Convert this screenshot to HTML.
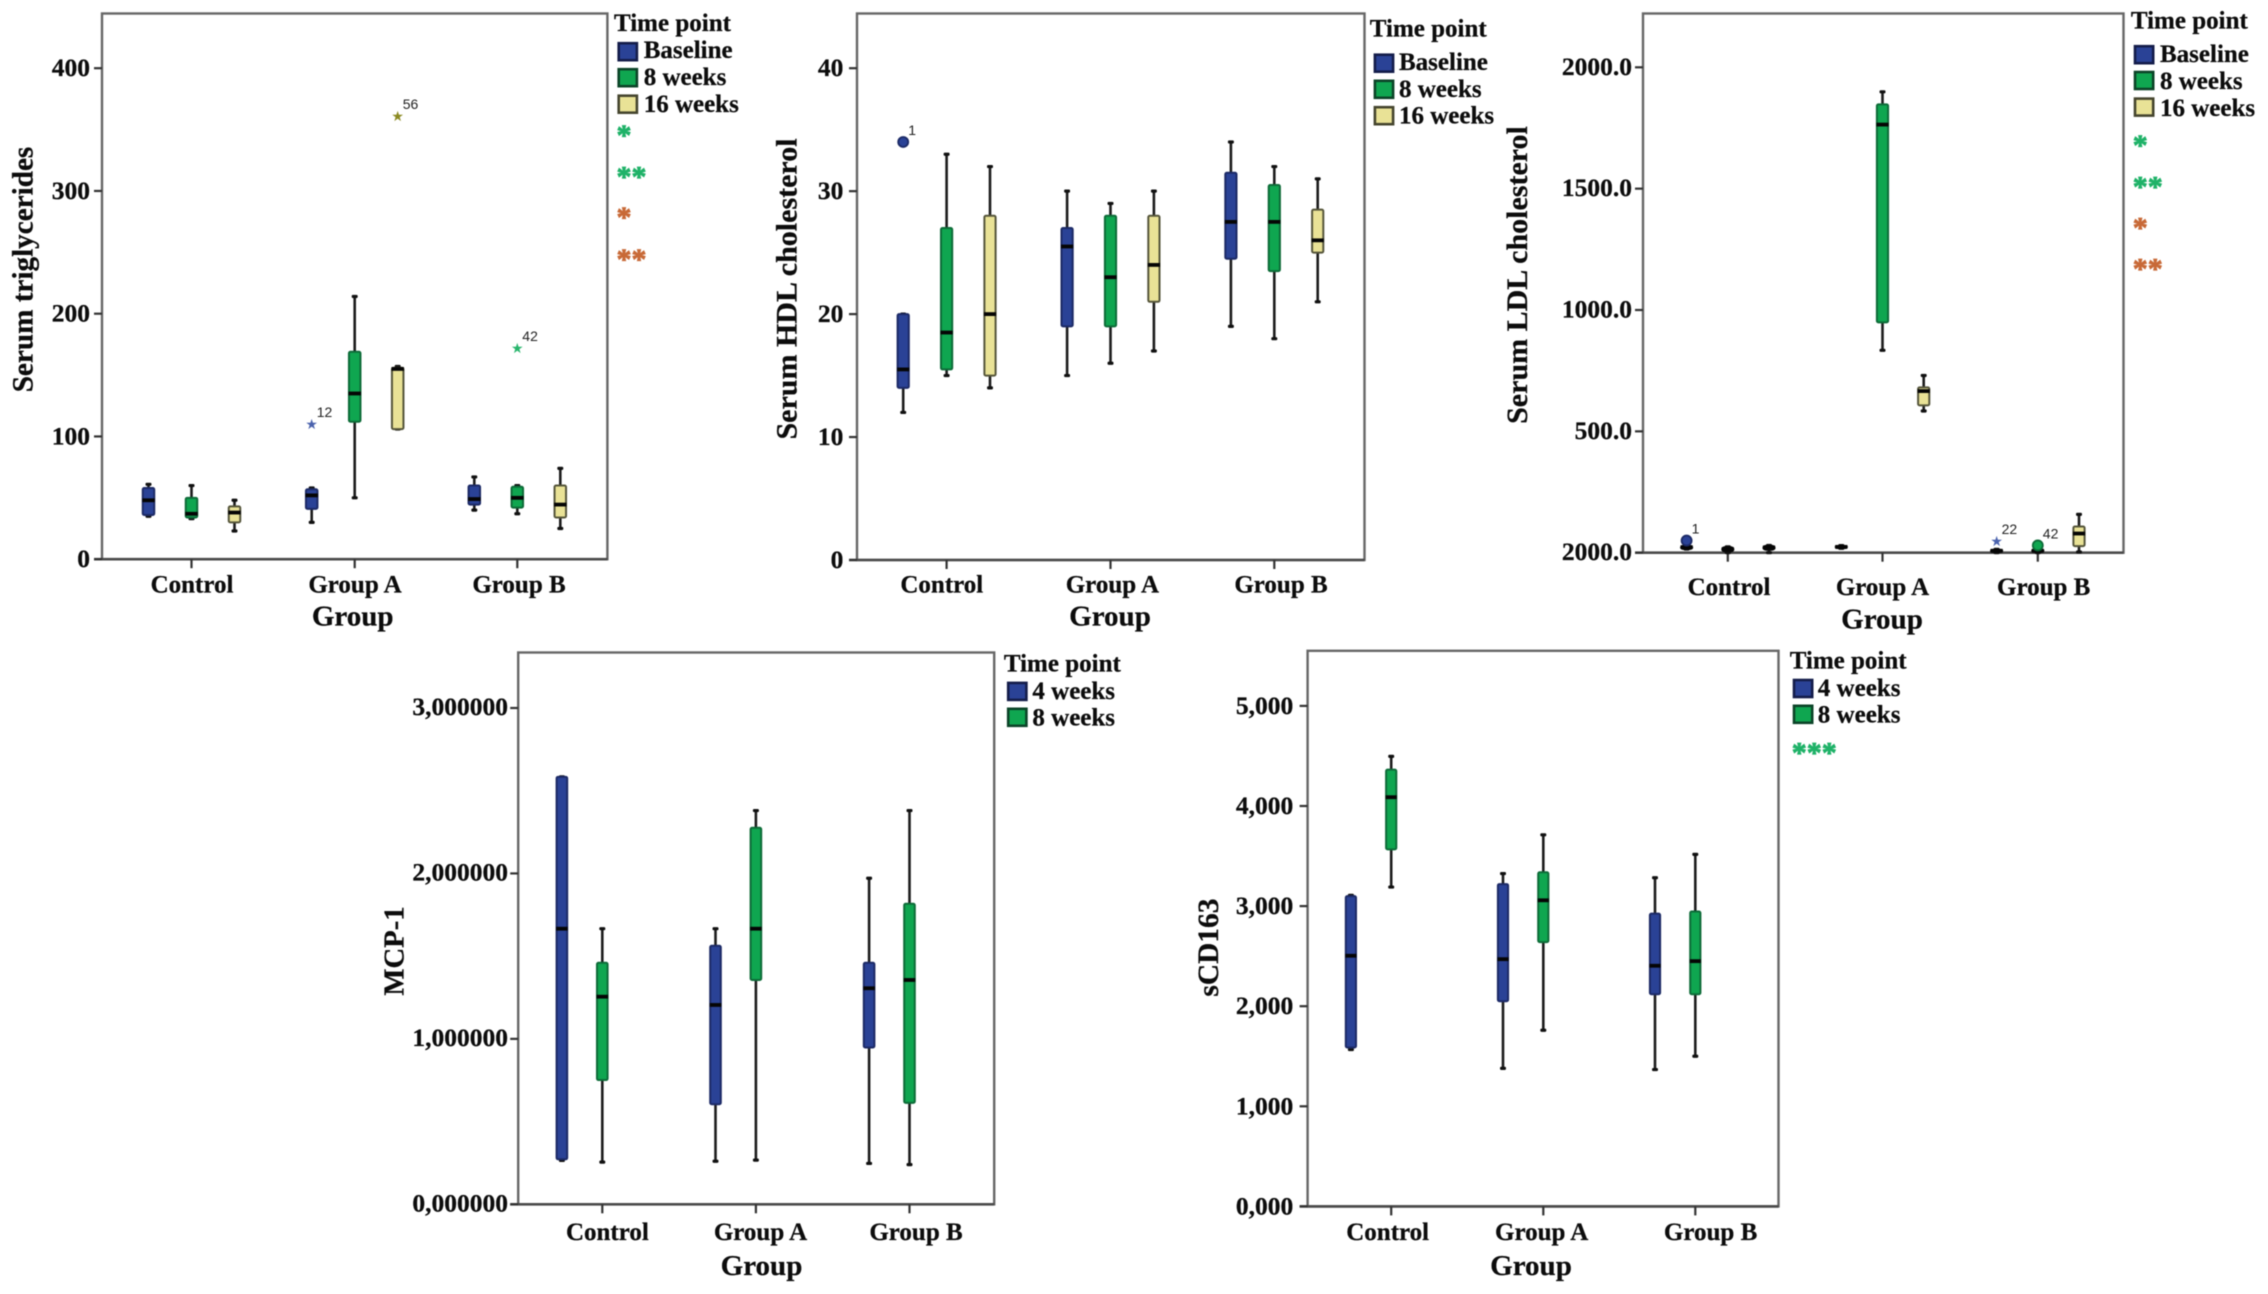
<!DOCTYPE html>
<html lang="en">
<head>
<meta charset="utf-8">
<title>Serum markers by group and time point</title>
<style>
  html, body { margin: 0; padding: 0; background: #fff; }
  #figure { display: block; width: 2268px; height: 1294px; background: #fff; filter: blur(0.45px); }
  text { font-family: "Liberation Serif", serif; font-weight: bold; fill: #0c0c0c; stroke: #0c0c0c; stroke-width: 0.25px; }
</style>
</head>
<body>
<svg id="figure" xmlns="http://www.w3.org/2000/svg" width="2268" height="1294" viewBox="0 0 2268 1294"></svg>
<script>
// ---------- shared categories ----------
const groupCategories = ['Control', 'Group A', 'Group B'];
const threeTimePoints = ['Baseline', '8 weeks', '16 weeks'];
const twoTimePoints = ['4 weeks', '8 weeks'];

// ---------- serum triglycerides: [low, q1, median, q3, high] per group ----------
const tgBaseline = [[35, 36, 48, 58, 61], [30, 41, 52, 57, 58], [40, 44.5, 49, 60, 67]];
const tgWeek8 = [[33, 34, 37, 50, 60], [50, 112, 135, 169, 214], [37, 42, 50, 59, 60]];
const tgWeek16 = [[23, 30, 38, 43, 48], [106, 106, 155, 156, 157], [25, 34, 44.5, 60, 74]];
const tgTickValues = [0, 100, 200, 300, 400];
const tgTickLabels = ['0', '100', '200', '300', '400'];
const tgOutlierGroups = [1, 1, 2];
const tgOutlierSeries = [0, 2, 1];
const tgOutlierValues = [110, 361, 172];
const tgOutlierLabels = ['12', '56', '42'];
const tgOutlierKinds = ['star', 'star', 'star'];

// ---------- serum HDL cholesterol ----------
const hdlBaseline = [[12, 14, 15.5, 20, 20], [15, 19, 25.5, 27, 30], [19, 24.5, 27.5, 31.5, 34]];
const hdlWeek8 = [[15, 15.5, 18.5, 27, 33], [16, 19, 23, 28, 29], [18, 23.5, 27.5, 30.5, 32]];
const hdlWeek16 = [[14, 15, 20, 28, 32], [17, 21, 24, 28, 30], [21, 25, 26, 28.5, 31]];
const hdlTickValues = [0, 10, 20, 30, 40];
const hdlTickLabels = ['0', '10', '20', '30', '40'];
const hdlOutlierGroups = [0];
const hdlOutlierSeries = [0];
const hdlOutlierValues = [34];
const hdlOutlierLabels = ['1'];
const hdlOutlierKinds = ['circle'];

// ---------- serum LDL cholesterol ----------
const ldlBaseline = [[15, 15, 23, 28, 30], [18, 19, 24, 28, 29], [0, 3, 8, 12, 14]];
const ldlWeek8 = [[0, 5, 15, 23, 24], [834, 949, 1764, 1847, 1899], [0, 3, 8, 13, 15]];
const ldlWeek16 = [[0, 12, 22, 28, 30], [584, 607, 666, 681, 730], [3, 27, 79, 108, 158]];
const ldlTickValues = [0, 500, 1000, 1500, 2000];
const ldlTickLabels = ['2000.0', '500.0', '1000.0', '1500.0', '2000.0'];
const ldlOutlierGroups = [0, 2, 2];
const ldlOutlierSeries = [0, 0, 1];
const ldlOutlierValues = [50, 49, 30];
const ldlOutlierLabels = ['1', '22', '42'];
const ldlOutlierKinds = ['circle', 'star', 'circle'];

// ---------- MCP-1 ----------
const mcpWeek4 = [[0.265, 0.272, 1.666, 2.584, 2.584], [0.26, 0.605, 1.205, 1.563, 1.666], [0.247, 0.948, 1.306, 1.46, 1.971]];
const mcpWeek8 = [[0.255, 0.751, 1.255, 1.46, 1.666], [0.267, 1.356, 1.666, 2.276, 2.38], [0.24, 0.613, 1.356, 1.817, 2.38]];
const mcpTickValues = [0, 1, 2, 3];
const mcpTickLabels = ['0,000000', '1,000000', '2,000000', '3,000000'];

// ---------- sCD163 ----------
const cdWeek4 = [[1.567, 1.587, 2.504, 3.1, 3.108], [1.379, 2.05, 2.47, 3.22, 3.325], [1.367, 2.12, 2.404, 2.925, 3.283]];
const cdWeek8 = [[3.19, 3.567, 4.088, 4.363, 4.496], [1.76, 2.64, 3.058, 3.338, 3.712], [1.5, 2.12, 2.45, 2.946, 3.517]];
const cdTickValues = [0, 1, 2, 3, 4, 5];
const cdTickLabels = ['0,000', '1,000', '2,000', '3,000', '4,000', '5,000'];

// ---------- styles and layout ----------
const SVG_NS = 'http://www.w3.org/2000/svg';
const figure = document.getElementById('figure');
const FILLS = { blue: '#2a4296', green: '#0fa650', khaki: '#e9e296' };
const EDGES = { blue: '#1c2a66', green: '#0d6b38', khaki: '#55553a' };
const STAR_COLORS = { blue: '#4a62ad', green: '#27b56c', khaki: '#8b8a22' };
const LEGEND_EDGES = { blue: '#141d4a', green: '#0c4428', khaki: '#45452e' };

function make(tag, parent) {
  const node = document.createElementNS(SVG_NS, tag);
  parent.appendChild(node);
  return node;
}
function set(node, attrs) {
  for (const key in attrs) node.setAttribute(key, attrs[key]);
  return node;
}
function slug(s) { return s.toLowerCase().replace(/[^a-z0-9]+/g, '-'); }

function drawPanel(p) {
  const g = make('g', figure);
  
  

  const yScale = v => p.y0 - (v / p.tickMax) * (p.y0 - p.yMaxPx);

  const frame = set(make('rect', g), { x: p.left, y: p.top, width: p.right - p.left, height: p.y0 - p.top, fill: '#fff', stroke: '#676767', 'stroke-width': 2.4 });
  
  

  const baseLine = set(make('line', g), { x1: p.left - 8, x2: p.right, y1: p.y0, y2: p.y0, stroke: '#4a4a4a', 'stroke-width': 2.6 });
  
  

  p.tickValues.forEach((v, i) => {
    const y = yScale(v);
    const tick = set(make('line', g), { x1: p.left - 8, x2: p.left, y1: y, y2: y, stroke: '#333', 'stroke-width': 2.2 });
    
    
    const label = set(make('text', g), { x: p.tickRight, y: y + p.tickDy, 'text-anchor': 'end', 'font-size': 25.5 });
    label.textContent = p.tickLabels[i];
    
    
  });

  groupCategories.forEach((cat, gi) => {
    const tick = set(make('line', g), { x1: p.groupX[gi], x2: p.groupX[gi], y1: p.y0, y2: p.y0 + 9, stroke: '#333', 'stroke-width': 2.2 });
    
    
    const label = set(make('text', g), { x: p.catX[gi], y: p.catY, 'text-anchor': 'middle', 'font-size': 25 });
    label.textContent = cat;
    
    
  });

  const xTitle = set(make('text', g), { x: p.xTitleX, y: p.xTitleY, 'text-anchor': 'middle', 'font-size': 29 });
  xTitle.textContent = 'Group';
  
  

  const yTitle = set(make('text', g), { x: 0, y: 0, 'text-anchor': 'middle', 'font-size': p.yTitleSize, transform: 'translate(' + p.yTitleX + ' ' + p.yTitleY + ') rotate(-90)' });
  yTitle.textContent = p.yTitle;
  
  

  // box plots
  p.series.forEach((rows, si) => {
    const color = p.colors[si];
    rows.forEach((row, gi) => {
      const [low, q1, median, q3, high] = row;
      const cx = p.groupX[gi] + p.seriesOffset[si];
      const base = slug(groupCategories[gi]) + '-' + slug(p.seriesNames[si]);

      const whisker = set(make('line', g), { x1: cx, x2: cx, y1: yScale(low), y2: yScale(high), stroke: '#1c1c1c', 'stroke-width': 2.6 });
      
      

      [low, high].forEach(v => {
        const cap = set(make('rect', g), { x: cx - 3, y: yScale(v) - 1.6, width: 6, height: 3.2, rx: 1.2, fill: '#111' });
        
        
      });

      const boxH = yScale(q1) - yScale(q3);
      const tiny = boxH < 6;
      const box = set(make('rect', g), { x: cx - p.boxW / 2, y: yScale(q3), width: p.boxW, height: Math.max(0.5, boxH), rx: tiny ? 3 : 1.5, fill: tiny ? '#0a0a0a' : FILLS[color], stroke: tiny ? '#0a0a0a' : EDGES[color], 'stroke-width': 2 });
      
      

      const med = set(make('line', g), { x1: cx - p.boxW / 2 - 0.5, x2: cx + p.boxW / 2 + 0.5, y1: yScale(median), y2: yScale(median), stroke: '#050505', 'stroke-width': 3.8 });
      
      
    });
  });

  // outliers
  (p.outlierValues || []).forEach((v, i) => {
    const gi = p.outlierGroups[i];
    const si = p.outlierSeries[i];
    const color = p.colors[si];
    const cx = p.groupX[gi] + p.seriesOffset[si];
    const cy = yScale(v);
    let mark;
    if (p.outlierKinds[i] === 'circle') {
      mark = set(make('circle', g), { cx: cx, cy: cy, r: 5, fill: FILLS[color], stroke: EDGES[color], 'stroke-width': 1.8 });
    } else {
      mark = set(make('text', g), { x: cx, y: cy + 5, 'text-anchor': 'middle', 'font-size': 14 });
      mark.setAttribute('style', 'font-family:"DejaVu Sans",sans-serif;font-weight:normal;stroke:none;fill:' + STAR_COLORS[color]);
      mark.textContent = '★';
    }
    
    
    const tag = set(make('text', g), { x: cx + 5, y: cy - 7, 'font-size': 14 });
    tag.setAttribute('style', 'font-family:"Liberation Sans",sans-serif;font-weight:normal;stroke:none;fill:#222');
    tag.textContent = p.outlierLabels[i];
    
    
  });

  // legend
  const legend = make('g', g);
  
  
  const lt = set(make('text', legend), { x: p.legend.titleX, y: p.legend.titleY, 'font-size': 25 });
  lt.textContent = 'Time point';
  
  
  p.seriesNames.forEach((name, si) => {
    const color = p.colors[si];
    const sw = set(make('rect', legend), { x: p.legend.swatchX + 1.2, y: p.legend.swatchY[si] + 1.2, width: 18.2, height: 17, fill: FILLS[color], stroke: LEGEND_EDGES[color], 'stroke-width': 2.6 });
    
    
    const tx = set(make('text', legend), { x: p.legend.textX, y: p.legend.textY[si], 'font-size': 25 });
    tx.textContent = name;
    
    
  });
  (p.legend.marks || []).forEach(m => {
    const mk = set(make('text', legend), { x: p.legend.swatchX - 1, y: m.cy + 13, 'font-size': 30 });
    mk.setAttribute('style', 'stroke-width:0.8px;stroke:' + m.color + ';fill:' + m.color);
    mk.textContent = m.text;
    
    
  });
}

const GREEN_MARK = '#1fb268';
const ORANGE_MARK = '#c86a38';

drawPanel({
  id: 'triglycerides', yTitle: 'Serum triglycerides', yTitleSize: 29.2,
  left: 102, right: 607.4, top: 13.5, y0: 559.2, yMaxPx: 68.2, tickMax: 400, tickRight: 90, tickDy: 8,
  tickValues: tgTickValues, tickLabels: tgTickLabels,
  groupX: [191.5, 354.7, 517.3], seriesOffset: [-43, 0, 43], boxW: 11.5,
  catX: [192, 355, 519], catY: 592.6, xTitleX: 352.7, xTitleY: 625.7, yTitleX: 32.3, yTitleY: 269.5,
  series: [tgBaseline, tgWeek8, tgWeek16], seriesNames: threeTimePoints, colors: ['blue', 'green', 'khaki'],
  outlierGroups: tgOutlierGroups, outlierSeries: tgOutlierSeries, outlierValues: tgOutlierValues, outlierLabels: tgOutlierLabels, outlierKinds: tgOutlierKinds,
  legend: { titleX: 614, titleY: 31, swatchX: 617.5, swatchY: [42, 68, 94.5], textX: 643.7, textY: [58, 85, 112],
    marks: [{ text: '*', cy: 132, color: GREEN_MARK }, { text: '**', cy: 173.5, color: GREEN_MARK }, { text: '*', cy: 214, color: ORANGE_MARK }, { text: '**', cy: 256, color: ORANGE_MARK }] }
});

drawPanel({
  id: 'hdl', yTitle: 'Serum HDL cholesterol', yTitleSize: 30,
  left: 857, right: 1364.5, top: 13.5, y0: 560, yMaxPx: 68.2, tickMax: 40, tickRight: 843.4, tickDy: 8,
  tickValues: hdlTickValues, tickLabels: hdlTickLabels,
  groupX: [946.6, 1110.5, 1274.3], seriesOffset: [-43.4, 0, 43.4], boxW: 11.2,
  catX: [941.8, 1112.4, 1281], catY: 592.6, xTitleX: 1110, xTitleY: 625.7, yTitleX: 796.4, yTitleY: 289,
  series: [hdlBaseline, hdlWeek8, hdlWeek16], seriesNames: threeTimePoints, colors: ['blue', 'green', 'khaki'],
  outlierGroups: hdlOutlierGroups, outlierSeries: hdlOutlierSeries, outlierValues: hdlOutlierValues, outlierLabels: hdlOutlierLabels, outlierKinds: hdlOutlierKinds,
  legend: { titleX: 1369.8, titleY: 36.7, swatchX: 1373.7, swatchY: [53.5, 79.6, 106], textX: 1399, textY: [70, 97, 123.7] }
});

drawPanel({
  id: 'ldl', yTitle: 'Serum LDL cholesterol', yTitleSize: 30,
  left: 1643, right: 2123.5, top: 13.5, y0: 552.7, yMaxPx: 67.3, tickMax: 2000, tickRight: 1632, tickDy: 7.5,
  tickValues: ldlTickValues, tickLabels: ldlTickLabels,
  groupX: [1727.8, 1882.5, 2037.8], seriesOffset: [-41.2, 0, 41.2], boxW: 11.2,
  catX: [1729, 1882.5, 2043.7], catY: 595, xTitleX: 1882, xTitleY: 628.6, yTitleX: 1527, yTitleY: 275,
  series: [ldlBaseline, ldlWeek8, ldlWeek16], seriesNames: threeTimePoints, colors: ['blue', 'green', 'khaki'],
  outlierGroups: ldlOutlierGroups, outlierSeries: ldlOutlierSeries, outlierValues: ldlOutlierValues, outlierLabels: ldlOutlierLabels, outlierKinds: ldlOutlierKinds,
  legend: { titleX: 2130.9, titleY: 28.6, swatchX: 2133.8, swatchY: [45, 70.8, 97.4], textX: 2160, textY: [62, 89, 116],
    marks: [{ text: '*', cy: 142, color: GREEN_MARK }, { text: '**', cy: 183.7, color: GREEN_MARK }, { text: '*', cy: 224.5, color: ORANGE_MARK }, { text: '**', cy: 265.7, color: ORANGE_MARK }] }
});

drawPanel({
  id: 'mcp-1', yTitle: 'MCP-1', yTitleSize: 28.7,
  left: 518.2, right: 994.2, top: 652.5, y0: 1204.3, yMaxPx: 708, tickMax: 3, tickRight: 508, tickDy: 7,
  tickValues: mcpTickValues, tickLabels: mcpTickLabels,
  groupX: [602.3, 755.9, 909.5], seriesOffset: [-40.4, 0], boxW: 10.6,
  catX: [607.4, 760.5, 916], catY: 1239.8, xTitleX: 761.5, xTitleY: 1275, yTitleX: 403.4, yTitleY: 951,
  series: [mcpWeek4, mcpWeek8], seriesNames: twoTimePoints, colors: ['blue', 'green'],
  legend: { titleX: 1003.9, titleY: 671.3, swatchX: 1007, swatchY: [681.7, 707.6], textX: 1032.4, textY: [698.8, 725.5] }
});

drawPanel({
  id: 'scd163', yTitle: 'sCD163', yTitleSize: 29.4,
  left: 1307.6, right: 1778.5, top: 650.8, y0: 1206.4, yMaxPx: 705.9, tickMax: 5, tickRight: 1293.3, tickDy: 8,
  tickValues: cdTickValues, tickLabels: cdTickLabels,
  groupX: [1391.2, 1543.3, 1695.3], seriesOffset: [-40.3, 0], boxW: 10.2,
  catX: [1387.7, 1541.7, 1710.6], catY: 1239.8, xTitleX: 1531, xTitleY: 1275, yTitleX: 1218, yTitleY: 947.6,
  series: [cdWeek4, cdWeek8], seriesNames: twoTimePoints, colors: ['blue', 'green'],
  legend: { titleX: 1789.7, titleY: 668.4, swatchX: 1792.8, swatchY: [678.8, 704.6], textX: 1817.8, textY: [695.9, 722.6],
    marks: [{ text: '***', cy: 749.7, color: GREEN_MARK }] }
});
</script>
</body>
</html>
